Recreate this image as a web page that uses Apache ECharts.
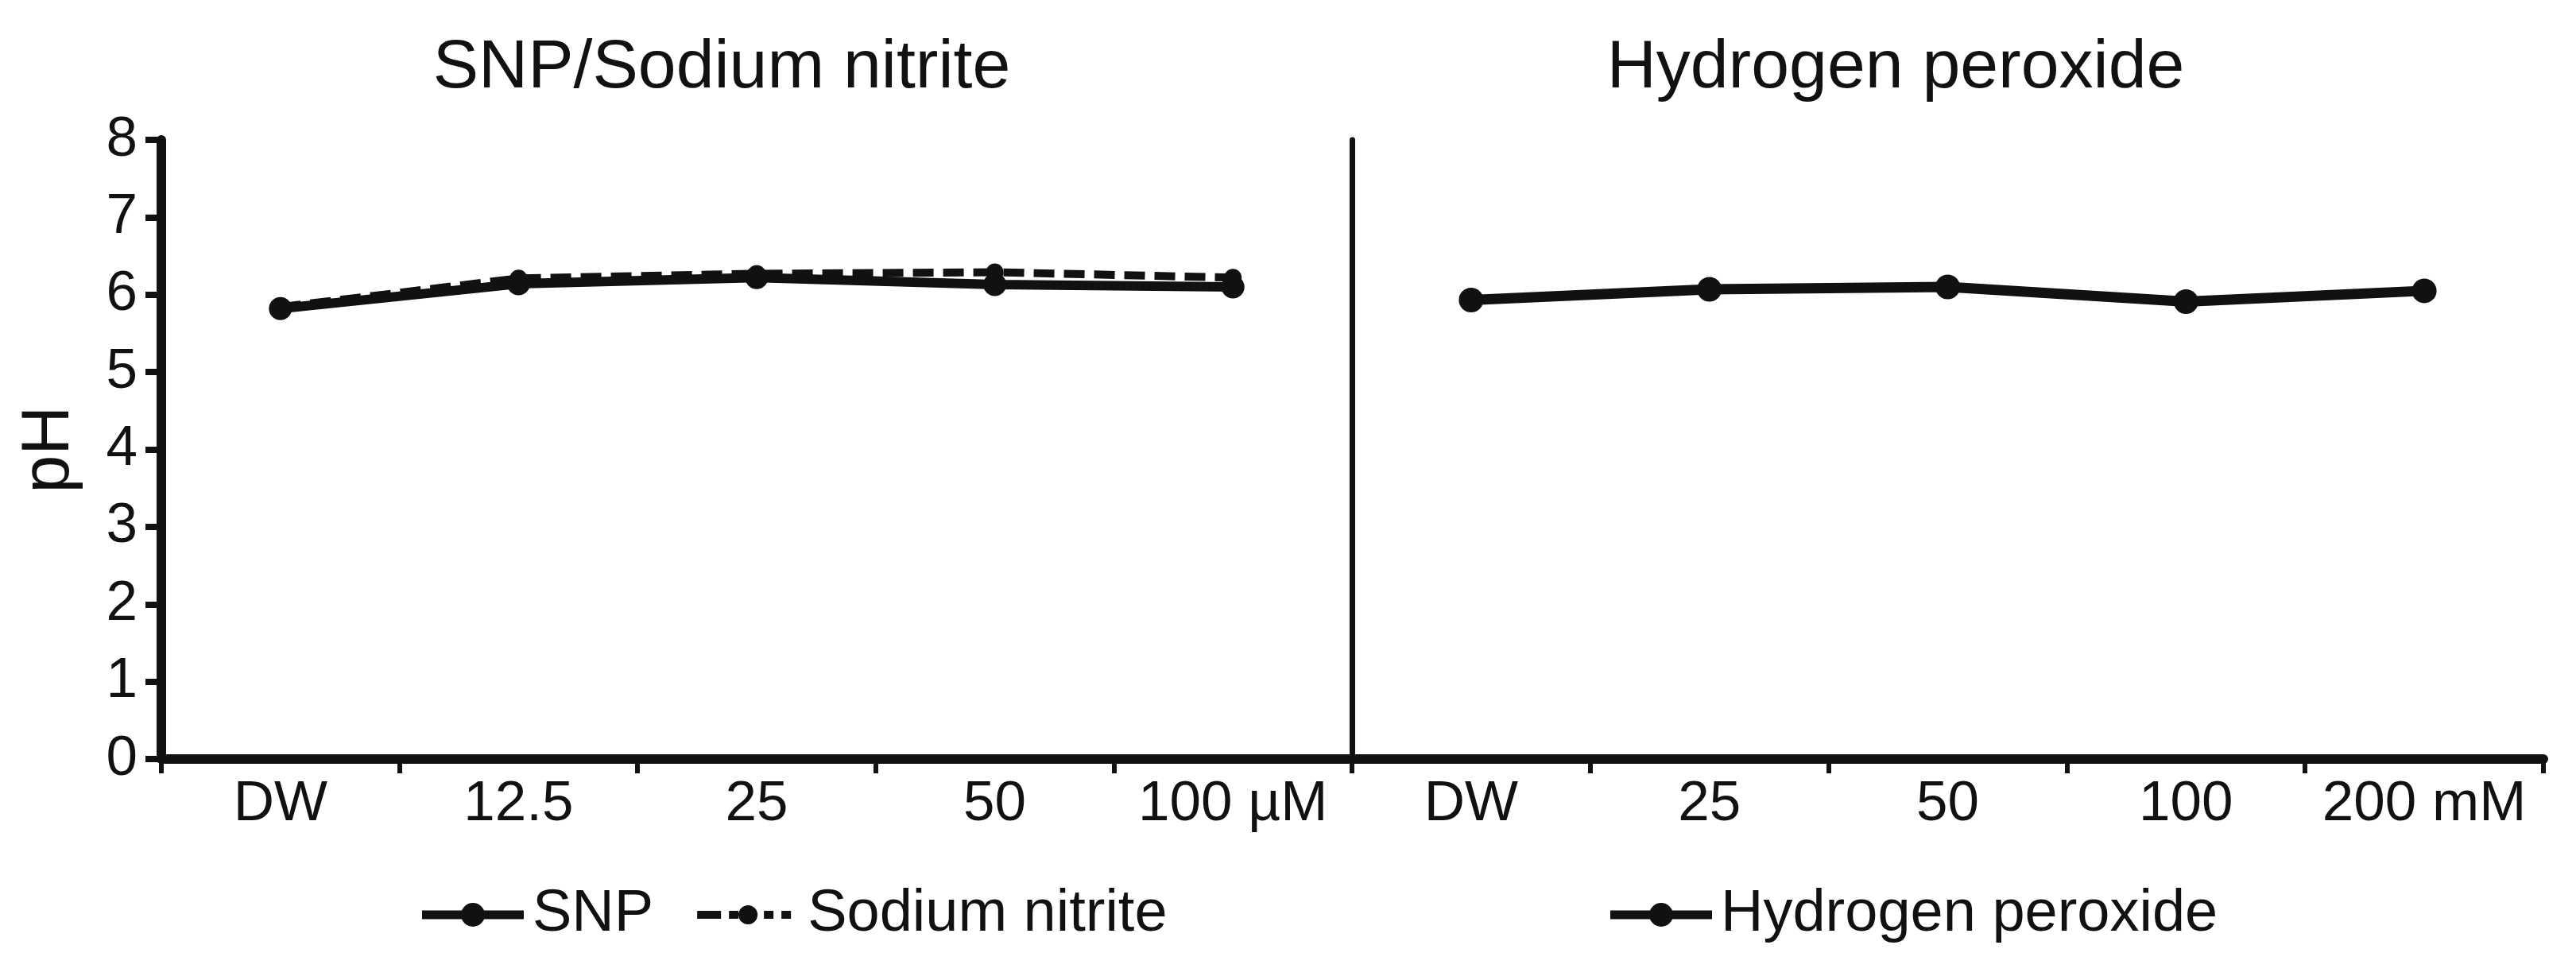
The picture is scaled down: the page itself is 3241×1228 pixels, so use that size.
<!DOCTYPE html>
<html><head><meta charset="utf-8">
<script src="https://cdn.jsdelivr.net/npm/echarts@6/dist/echarts.min.js"></script>
<style>html,body{margin:0;padding:0;background:#fff}#c{width:3241px;height:1228px}</style>
</head><body><div id="c"></div>
<script>
const leftCategories = ['DW', '12.5', '25', '50', '100 µM'];
const rightCategories = ['DW', '25', '50', '100', '200 mM'];
const snpValues = [5.82, 6.14, 6.22, 6.13, 6.10];
const nitriteValues = [5.84, 6.21, 6.27, 6.29, 6.22];
const h2o2Values = [5.93, 6.07, 6.10, 5.91, 6.05];
const yMin = 0, yMax = 8, yInterval = 1;
const panelTitles = ['SNP/Sodium nitrite', 'Hydrogen peroxide'];
const seriesNames = ['SNP', 'Sodium nitrite', 'Hydrogen peroxide'];
const yAxisName = 'pH';

const FONT = '"Liberation Sans", Arial, sans-serif';
const INK = '#111';

// legend icons: thick bar with a dot (solid) / dashes with a dot (dashed)
const solidIcon = 'path://M0,0 M0,9.5 L128,9.5 L128,20.5 L0,20.5 Z M49,15 A15,15 0 1,1 79,15 A15,15 0 1,1 49,15 Z M128,30';
const dashedIcon = 'path://M0,0 M0,10 L30,10 L30,20 L0,20 Z M40,10 L52,10 L52,20 L40,20 Z M52,15 A12,12 0 1,1 76,15 A12,12 0 1,1 52,15 Z M84,10 L96,10 L96,20 L84,20 Z M106,10 L118,10 L118,20 L106,20 Z M128,30';

const chart = echarts.init(document.getElementById('c'), null, {renderer: 'canvas'});

function xAxisCfg(gridIndex, data) {
  return {
    type: 'category', gridIndex, data, boundaryGap: true,
    axisLine: {show: true, lineStyle: {color: INK, width: 12}},
    axisTick: {show: true, length: 18, lineStyle: {color: INK, width: 6}},
    axisLabel: {color: INK, fontSize: 71, fontFamily: FONT, margin: 22, interval: 0},
    splitLine: {show: false}
  };
}

const option = {
  animation: false,
  backgroundColor: '#fff',
  graphic: [
    {type: 'text', x: 908, y: 86, style: {text: panelTitles[0], fontSize: 86, fontFamily: FONT, fill: INK, align: 'center', verticalAlign: 'middle'}},
    {type: 'text', x: 2385, y: 86, style: {text: panelTitles[1], fontSize: 86, fontFamily: FONT, fill: INK, align: 'center', verticalAlign: 'middle'}}
  ],
  grid: [
    {left: 203, top: 176, width: 1498, height: 779},
    {left: 1701, top: 176, width: 1499, height: 779}
  ],
  legend: [
    {data: [{name: seriesNames[0], icon: solidIcon}, {name: seriesNames[1], icon: dashedIcon}],
     left: 526, top: 1109, itemWidth: 128, itemHeight: 30, itemGap: 55,
     itemStyle: {color: INK, borderWidth: 0},
     textStyle: {color: INK, fontSize: 74, fontFamily: FONT, padding: [0, 0, 0, 6]}},
    {data: [{name: seriesNames[2], icon: solidIcon}], left: 2021, top: 1109, itemWidth: 128, itemHeight: 30,
     itemStyle: {color: INK, borderWidth: 0},
     textStyle: {color: INK, fontSize: 74, fontFamily: FONT, padding: [0, 0, 0, 6]}}
  ],
  xAxis: [xAxisCfg(0, leftCategories), xAxisCfg(1, rightCategories)],
  yAxis: [
    {type: 'value', gridIndex: 0, min: yMin, max: yMax, interval: yInterval,
     name: yAxisName, nameLocation: 'middle', nameRotate: 90, nameGap: 98,
     nameTextStyle: {color: INK, fontSize: 86, fontFamily: FONT},
     axisLine: {show: true, lineStyle: {color: INK, width: 12}},
     axisTick: {show: true, length: 20, lineStyle: {color: INK, width: 8}},
     axisLabel: {color: INK, fontSize: 71, fontFamily: FONT, margin: 30},
     splitLine: {show: false}},
    {type: 'value', gridIndex: 1, min: yMin, max: yMax, interval: yInterval,
     axisLine: {show: true, lineStyle: {color: INK, width: 7}},
     axisTick: {show: false}, axisLabel: {show: false}, splitLine: {show: false}}
  ],
  series: [
    {name: seriesNames[1], type: 'line', xAxisIndex: 0, yAxisIndex: 0, data: nitriteValues,
     symbol: 'circle', symbolSize: 22, color: INK, itemStyle: {color: INK},
     lineStyle: {color: INK, width: 10, type: [26, 12]}, z: 2},
    {name: seriesNames[0], type: 'line', xAxisIndex: 0, yAxisIndex: 0, data: snpValues,
     symbol: 'circle', symbolSize: 29, color: INK, itemStyle: {color: INK},
     lineStyle: {color: INK, width: 12}, z: 3},
    {name: seriesNames[2], type: 'line', xAxisIndex: 1, yAxisIndex: 1, data: h2o2Values,
     symbol: 'circle', symbolSize: 31, color: INK, itemStyle: {color: INK},
     lineStyle: {color: INK, width: 13}, z: 3}
  ]
};
chart.setOption(option);
</script></body></html>
